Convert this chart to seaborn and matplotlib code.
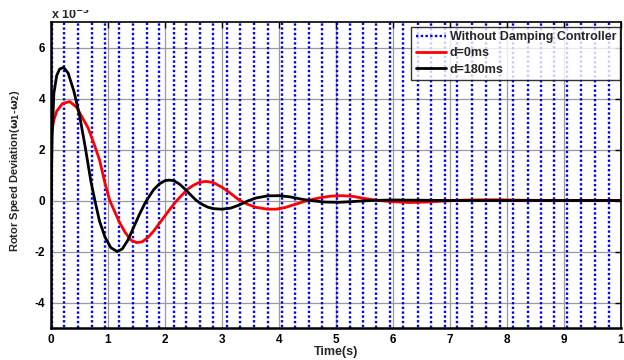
import numpy as np
import pandas as pd
import matplotlib
matplotlib.use("Agg")
import matplotlib.pyplot as plt
from matplotlib.transforms import Bbox
import seaborn as sns

# ---- data (values in units of 1e-3) ----
# Without damping controller: large undamped oscillation, clipped by the axes;
# times where the curve sweeps through the visible range (alternating up/down)
blue_cross_t = [0.02, 0.23, 0.47, 0.72, 0.95, 1.19, 1.43, 1.68, 1.90, 2.15,
                2.37, 2.61, 2.85, 3.09, 3.32, 3.57, 3.80, 4.05, 4.28, 4.53,
                4.76, 5.01, 5.25, 5.48, 5.71, 5.95, 6.18, 6.43, 6.66, 6.91,
                7.13, 7.39, 7.63, 7.88, 8.11, 8.36, 8.59, 8.82, 9.06, 9.30,
                9.54, 9.79, 10.02]
blue_swing = 500.0  # off-chart extreme of the oscillation

red_t = [0.0, 0.005, 0.05, 0.10, 0.20, 0.33, 0.45, 0.55, 0.65, 0.75, 0.85,
         0.95, 1.03, 1.12, 1.20, 1.30, 1.40, 1.50, 1.60, 1.70, 1.80, 1.90,
         2.00, 2.10, 2.20, 2.30, 2.40, 2.50, 2.60, 2.72, 2.85, 3.00, 3.15,
         3.30, 3.45, 3.60, 3.80, 3.95, 4.10, 4.30, 4.50, 4.70, 4.90, 5.10,
         5.30, 5.50, 5.75, 6.00, 6.30, 6.60, 6.90, 7.30, 7.80, 8.30, 9.00, 10.0]
red_y = [0.0, 2.6, 3.15, 3.5, 3.8, 3.88, 3.65, 3.25, 2.85, 2.25, 1.6,
         0.65, 0.0, -0.45, -0.85, -1.25, -1.55, -1.65, -1.62, -1.45, -1.2, -0.9,
         -0.6, -0.3, -0.02, 0.22, 0.45, 0.6, 0.71, 0.75, 0.7, 0.52, 0.28,
         0.02, -0.15, -0.27, -0.34, -0.34, -0.28, -0.14, 0.0, 0.1, 0.17, 0.19,
         0.16, 0.08, 0.0, -0.05, -0.08, -0.06, -0.02, 0.02, 0.03, 0.01, 0.0, 0.0]

black_t = [0.0, 0.02, 0.05, 0.10, 0.15, 0.22, 0.30, 0.40, 0.50, 0.60, 0.70,
           0.77, 0.85, 0.95, 1.05, 1.16, 1.25, 1.35, 1.45, 1.55, 1.65, 1.72,
           1.80, 1.90, 2.00, 2.07, 2.15, 2.25, 2.35, 2.45, 2.55, 2.65, 2.75,
           2.85, 3.00, 3.15, 3.30, 3.45, 3.60, 3.80, 4.00, 4.20, 4.40, 4.55,
           4.80, 5.05, 5.30, 5.60, 6.00, 6.50, 7.00, 10.0]
black_y = [0.0, 2.5, 4.2, 4.9, 5.15, 5.22, 5.0, 4.3, 3.35, 2.1, 0.75,
           0.0, -0.8, -1.45, -1.85, -2.0, -1.9, -1.55, -1.05, -0.55, -0.1, 0.15,
           0.42, 0.65, 0.78, 0.8, 0.78, 0.65, 0.45, 0.22, 0.0, -0.15, -0.26,
           -0.32, -0.34, -0.3, -0.18, -0.02, 0.1, 0.18, 0.19, 0.14, 0.05, 0.0,
           -0.06, -0.07, -0.04, 0.0, 0.02, 0.01, 0.0, 0.0]

x_ticks = [0, 1, 2, 3, 4, 5, 6, 7, 8, 9, 10]
x_ticklabels = ["0", "1", "2", "3", "4", "5", "6", "7", "8", "9", "1"]
y_ticks = [-4, -2, 0, 2, 4, 6]

labels = ["Without Damping Controller", "d=0ms", "d=180ms"]

# ---- build blue path: vertical sweeps at the crossing times ----
bt, by = [], []
sign = 1
for t in blue_cross_t:
    bt += [t, t]
    by += [-sign * blue_swing, sign * blue_swing]
    sign = -sign
blue_df = pd.DataFrame({"t": bt, "y": by})
red_df = pd.DataFrame({"t": red_t, "y": red_y})
black_df = pd.DataFrame({"t": black_t, "y": black_y})

sns.set_style("white")
plt.rcParams["font.family"] = ["Liberation Sans", "DejaVu Sans"]
plt.rcParams["font.weight"] = "bold"
plt.rcParams["mathtext.default"] = "bf"
plt.rcParams["axes.unicode_minus"] = False

fig = plt.figure(figsize=(6.24, 3.6), dpi=100)
ax = fig.add_axes([51 / 624, 1 - 328 / 360, 570 / 624, 306 / 360])

sns.lineplot(data=blue_df, x="t", y="y", sort=False, estimator=None, ax=ax,
             color="#0000ff", lw=1.7, linestyle=(0, (1, 1.0)), label=labels[0])
sns.lineplot(data=red_df, x="t", y="y", sort=False, estimator=None, ax=ax,
             color="#ff0000", lw=2.0, label=labels[1])
sns.lineplot(data=black_df, x="t", y="y", sort=False, estimator=None, ax=ax,
             color="#000000", lw=2.0, label=labels[2])

ax.set_xlim(0, 10)
ax.set_ylim(-5, 7)
ax.set_xticks(x_ticks)
ax.set_xticklabels(x_ticklabels)
ax.set_yticks(y_ticks)
ax.grid(True, color="#9a9a9a", lw=0.9)
ax.set_axisbelow(True)
ax.tick_params(direction="in", length=4, width=1, top=True, right=True,
               labelsize=8.5, pad=4, colors="black")
for lab in ax.get_xticklabels() + ax.get_yticklabels():
    lab.set_fontweight("bold")
for s in ax.spines.values():
    s.set_visible(True)
    s.set_color("black")
    s.set_linewidth(1.2)
ax.spines["bottom"].set_linewidth(1.8)
ax.spines["left"].set_linewidth(1.8)

ax.set_xlabel("Time(s)", fontsize=9, fontweight="bold", labelpad=0)
ax.set_ylabel(r"Rotor Speed Deviation($\omega_1$-$\omega_2$)", fontsize=8,
              fontweight="bold")
ax.yaxis.set_label_coords(-0.05, 0.513)

leg = ax.legend(loc="upper right", bbox_to_anchor=(0.999, 0.985), fontsize=9,
                frameon=True, fancybox=False, edgecolor="black",
                handlelength=2.4, handletextpad=0.3, borderpad=0.35,
                labelspacing=0.35, borderaxespad=0.0)
leg.get_frame().set_linewidth(1.0)
for txt in leg.get_texts():
    txt.set_fontweight("bold")

# exponent label, its superscript clipped at the top as in the original
mult = fig.text(51 / 624, 1 - 19 / 360, r"x 10$^{-3}$", fontsize=9,
                fontweight="bold", ha="left", va="baseline")
mult.set_clip_box(Bbox.from_extents(0, 0, 624, 350))
mult.set_clip_on(True)

fig.savefig("out.png", dpi=100, facecolor="white")
